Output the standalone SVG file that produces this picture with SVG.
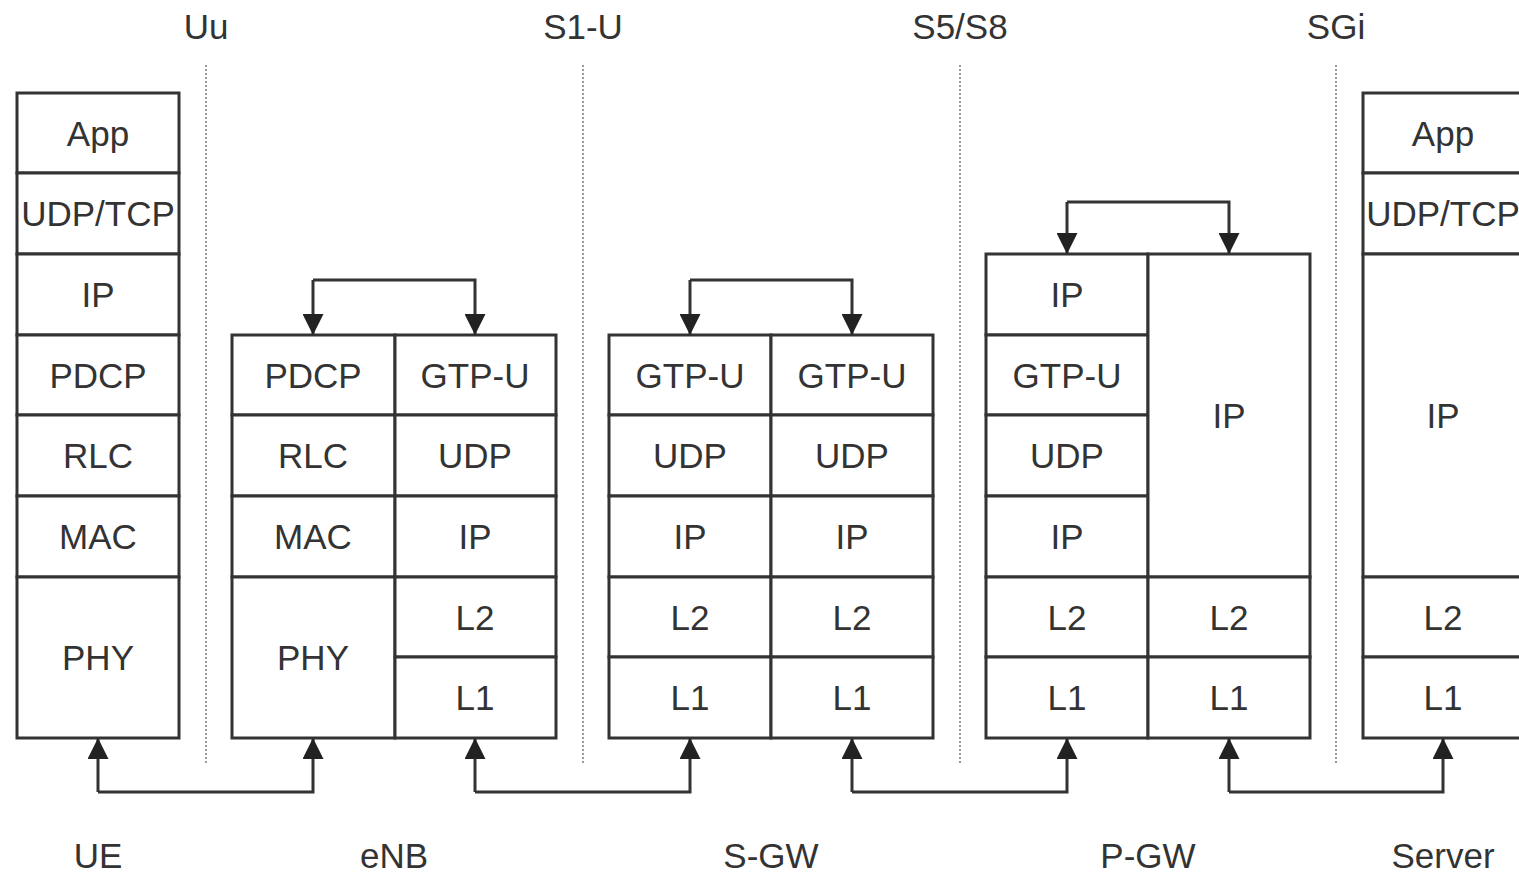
<svg xmlns="http://www.w3.org/2000/svg" width="1519" height="875" viewBox="0 0 1519 875">
<defs>
<marker id="ah" viewBox="0 0 10 10" refX="10" refY="5" markerWidth="7" markerHeight="7" markerUnits="strokeWidth" orient="auto">
<path d="M0,0 L10,5 L0,10 z" fill="#222"/>
</marker>
<style>
.c{fill:#fff;stroke:#333;stroke-width:3}
.t{font-family:"Liberation Sans",Arial,sans-serif;font-size:35px;fill:#333;text-anchor:middle}
.d{stroke:#999;stroke-width:2;stroke-dasharray:2 2;fill:none}
.a{fill:none;stroke:#333;stroke-width:3;marker-end:url(#ah)}
</style>
</defs>
<rect width="1519" height="875" fill="#fff"/>
<g id="interfaces">
<line class="d" x1="206" y1="65" x2="206" y2="765"/>
<line class="d" x1="583" y1="65" x2="583" y2="765"/>
<line class="d" x1="960" y1="65" x2="960" y2="765"/>
<line class="d" x1="1336" y1="65" x2="1336" y2="765"/>
<text class="t" x="206" y="39">Uu</text>
<text class="t" x="583" y="39">S1-U</text>
<text class="t" x="960" y="39">S5/S8</text>
<text class="t" x="1336" y="39">SGi</text>
</g>
<g id="ue">
<rect class="c" x="17" y="93" width="162" height="80"/><text class="t" x="98" y="146">App</text>
<rect class="c" x="17" y="173" width="162" height="81"/><text class="t" x="98" y="226">UDP/TCP</text>
<rect class="c" x="17" y="254" width="162" height="81"/><text class="t" x="98" y="307">IP</text>
<rect class="c" x="17" y="335" width="162" height="80"/><text class="t" x="98" y="388">PDCP</text>
<rect class="c" x="17" y="415" width="162" height="81"/><text class="t" x="98" y="468">RLC</text>
<rect class="c" x="17" y="496" width="162" height="81"/><text class="t" x="98" y="549">MAC</text>
<rect class="c" x="17" y="577" width="162" height="161"/><text class="t" x="98" y="670">PHY</text>
<text class="t" x="98" y="868">UE</text>
</g>
<g id="enb">
<rect class="c" x="232" y="335" width="163" height="80"/><text class="t" x="313" y="388">PDCP</text>
<rect class="c" x="232" y="415" width="163" height="81"/><text class="t" x="313" y="468">RLC</text>
<rect class="c" x="232" y="496" width="163" height="81"/><text class="t" x="313" y="549">MAC</text>
<rect class="c" x="232" y="577" width="163" height="161"/><text class="t" x="313" y="670">PHY</text>
<rect class="c" x="395" y="335" width="161" height="80"/><text class="t" x="475" y="388">GTP-U</text>
<rect class="c" x="395" y="415" width="161" height="81"/><text class="t" x="475" y="468">UDP</text>
<rect class="c" x="395" y="496" width="161" height="81"/><text class="t" x="475" y="549">IP</text>
<rect class="c" x="395" y="577" width="161" height="80"/><text class="t" x="475" y="630">L2</text>
<rect class="c" x="395" y="657" width="161" height="81"/><text class="t" x="475" y="710">L1</text>
<text class="t" x="394" y="868">eNB</text>
</g>
<g id="sgw">
<rect class="c" x="609" y="335" width="162" height="80"/><text class="t" x="690" y="388">GTP-U</text>
<rect class="c" x="609" y="415" width="162" height="81"/><text class="t" x="690" y="468">UDP</text>
<rect class="c" x="609" y="496" width="162" height="81"/><text class="t" x="690" y="549">IP</text>
<rect class="c" x="609" y="577" width="162" height="80"/><text class="t" x="690" y="630">L2</text>
<rect class="c" x="609" y="657" width="162" height="81"/><text class="t" x="690" y="710">L1</text>
<rect class="c" x="771" y="335" width="162" height="80"/><text class="t" x="852" y="388">GTP-U</text>
<rect class="c" x="771" y="415" width="162" height="81"/><text class="t" x="852" y="468">UDP</text>
<rect class="c" x="771" y="496" width="162" height="81"/><text class="t" x="852" y="549">IP</text>
<rect class="c" x="771" y="577" width="162" height="80"/><text class="t" x="852" y="630">L2</text>
<rect class="c" x="771" y="657" width="162" height="81"/><text class="t" x="852" y="710">L1</text>
<text class="t" x="771" y="868">S-GW</text>
</g>
<g id="pgw">
<rect class="c" x="986" y="254" width="162" height="81"/><text class="t" x="1067" y="307">IP</text>
<rect class="c" x="986" y="335" width="162" height="80"/><text class="t" x="1067" y="388">GTP-U</text>
<rect class="c" x="986" y="415" width="162" height="81"/><text class="t" x="1067" y="468">UDP</text>
<rect class="c" x="986" y="496" width="162" height="81"/><text class="t" x="1067" y="549">IP</text>
<rect class="c" x="986" y="577" width="162" height="80"/><text class="t" x="1067" y="630">L2</text>
<rect class="c" x="986" y="657" width="162" height="81"/><text class="t" x="1067" y="710">L1</text>
<rect class="c" x="1148" y="254" width="162" height="323"/><text class="t" x="1229" y="428">IP</text>
<rect class="c" x="1148" y="577" width="162" height="80"/><text class="t" x="1229" y="630">L2</text>
<rect class="c" x="1148" y="657" width="162" height="81"/><text class="t" x="1229" y="710">L1</text>
<text class="t" x="1148" y="868">P-GW</text>
</g>
<g id="server">
<rect class="c" x="1363" y="93" width="162" height="80"/><text class="t" x="1443" y="146">App</text>
<rect class="c" x="1363" y="173" width="162" height="81"/><text class="t" x="1443" y="226">UDP/TCP</text>
<rect class="c" x="1363" y="254" width="162" height="323"/><text class="t" x="1443" y="428">IP</text>
<rect class="c" x="1363" y="577" width="162" height="80"/><text class="t" x="1443" y="630">L2</text>
<rect class="c" x="1363" y="657" width="162" height="81"/><text class="t" x="1443" y="710">L1</text>
<text class="t" x="1443" y="868">Server</text>
</g>
<g id="connectors">
<path class="a" d="M313,280 L313,335"/>
<path class="a" d="M313,280 L475,280 L475,335"/>
<path class="a" d="M690,280 L690,335"/>
<path class="a" d="M690,280 L852,280 L852,335"/>
<path class="a" d="M1067,202 L1067,254"/>
<path class="a" d="M1067,202 L1229,202 L1229,254"/>
<path class="a" d="M98,792 L98,738"/>
<path class="a" d="M98,792 L313,792 L313,738"/>
<path class="a" d="M475,792 L475,738"/>
<path class="a" d="M475,792 L690,792 L690,738"/>
<path class="a" d="M852,792 L852,738"/>
<path class="a" d="M852,792 L1067,792 L1067,738"/>
<path class="a" d="M1229,792 L1229,738"/>
<path class="a" d="M1229,792 L1443,792 L1443,738"/>
</g>
</svg>
